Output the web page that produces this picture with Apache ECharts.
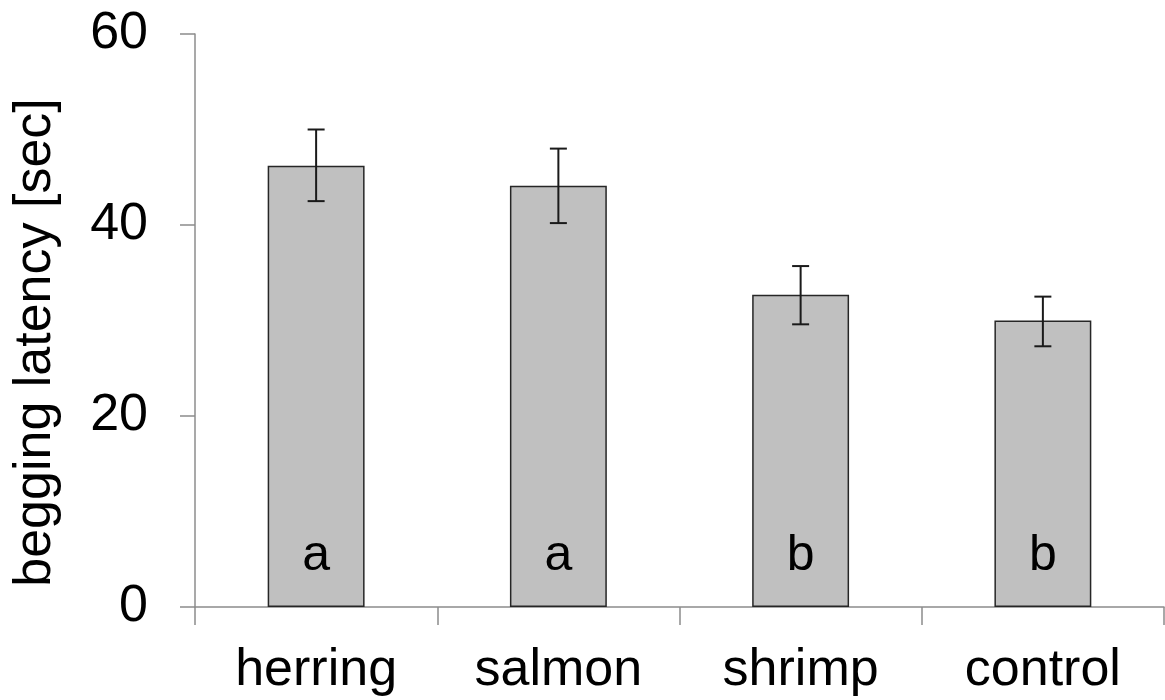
<!DOCTYPE html>
<html>
<head>
<meta charset="utf-8">
<script src="https://cdn.jsdelivr.net/npm/echarts@6/dist/echarts.min.js"></script>
<style>
html,body{margin:0;padding:0;background:#fff;}
#chart{width:1165px;height:700px;}
</style>
</head>
<body>
<div id="chart"></div>
<script>
const categories = ['herring', 'salmon', 'shrimp', 'control'];
const means = [46.2, 44.1, 32.7, 30.0];
const errLow = [42.5, 40.2, 29.6, 27.3];
const errHigh = [50.0, 48.0, 35.7, 32.5];
const groupLetters = ['a', 'a', 'b', 'b'];
const yTicks = [0, 20, 40, 60];

const FONT = 'Liberation Sans, Arial, sans-serif';
const chart = echarts.init(document.getElementById('chart'));

const errData = categories.map((c, i) => [i, errLow[i], errHigh[i]]);

chart.setOption({
  animation: false,
  backgroundColor: '#ffffff',
  grid: { left: 195, right: 1, top: 34, bottom: 93, containLabel: false },
  xAxis: {
    type: 'category',
    data: categories,
    boundaryGap: true,
    axisLine: { lineStyle: { color: '#8c8c8c', width: 1.5 } },
    axisTick: { show: true, length: 18, lineStyle: { color: '#8c8c8c', width: 1.5 } },
    axisLabel: { color: '#000', fontSize: 52, fontFamily: FONT, margin: 38, interval: 0 }
  },
  yAxis: {
    type: 'value',
    min: yTicks[0],
    max: yTicks[yTicks.length - 1],
    interval: 20,
    name: 'begging latency [sec]',
    nameLocation: 'middle',
    nameGap: 133,
    nameRotate: 90,
    nameTextStyle: { color: '#000', fontSize: 52, fontFamily: FONT, padding: [0, 44, 0, 0] },
    splitLine: { show: false },
    axisLine: { show: true, lineStyle: { color: '#8c8c8c', width: 1.5 } },
    axisTick: { show: true, inside: false, length: 15, lineStyle: { color: '#8c8c8c', width: 1.5 } },
    axisLabel: { color: '#000', fontSize: 52, fontFamily: FONT, margin: 47 }
  },
  series: [
    {
      type: 'bar',
      data: means,
      barWidth: '40%',
      itemStyle: { color: '#c0c0c0', borderColor: '#262626', borderWidth: 1.5 },
      label: {
        show: true,
        position: 'insideBottom',
        distance: 26,
        formatter: p => groupLetters[p.dataIndex],
        color: '#000',
        fontSize: 50,
        fontFamily: FONT,
        lineHeight: 50
      },
      z: 2
    },
    {
      type: 'custom',
      data: errData,
      z: 5,
      renderItem: function (params, api) {
        const x = api.value(0);
        const lo = api.coord([x, api.value(1)]);
        const hi = api.coord([x, api.value(2)]);
        const hw = 8.5;
        const style = { stroke: '#1a1a1a', lineWidth: 2 };
        return {
          type: 'group',
          children: [
            { type: 'line', shape: { x1: lo[0], y1: lo[1], x2: hi[0], y2: hi[1] }, style: style },
            { type: 'line', shape: { x1: hi[0] - hw, y1: hi[1], x2: hi[0] + hw, y2: hi[1] }, style: style },
            { type: 'line', shape: { x1: lo[0] - hw, y1: lo[1], x2: lo[0] + hw, y2: lo[1] }, style: style }
          ]
        };
      }
    }
  ]
});
</script>
</body>
</html>
